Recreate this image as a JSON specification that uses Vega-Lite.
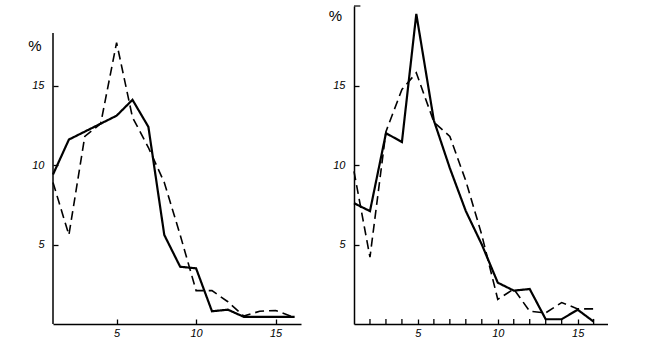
{
  "$schema": "https://vega.github.io/schema/vega-lite/v6.json",
  "padding": {"left": 27, "top": 5, "right": 0, "bottom": 0},
  "background": "white",
  "spacing": 53,
  "bounds": "flush",
  "config": {
    "view": {"stroke": null},
    "axis": {
      "domainColor": "black",
      "domainWidth": 1.5,
      "tickColor": "black",
      "tickWidth": 1.3,
      "tickSize": -5,
      "labelColor": "black",
      "labelFont": "Liberation Sans",
      "labelFontStyle": "italic",
      "labelFontSize": 11,
      "labelOverlap": false,
      "labelFlush": false,
      "grid": false,
      "titleColor": "black",
      "titleFont": "Liberation Sans",
      "titleFontSize": 15,
      "titleFontWeight": "normal"
    }
  },
  "datasets": {
    "left": [
      {"x": 1, "y": 9.4, "s": "solid"}, {"x": 2, "y": 11.6, "s": "solid"}, {"x": 3, "y": 12.1, "s": "solid"}, {"x": 4, "y": 12.6, "s": "solid"},
      {"x": 5, "y": 13.1, "s": "solid"}, {"x": 6, "y": 14.1, "s": "solid"}, {"x": 7, "y": 12.4, "s": "solid"}, {"x": 8, "y": 5.6, "s": "solid"},
      {"x": 9, "y": 3.6, "s": "solid"}, {"x": 10, "y": 3.5, "s": "solid"}, {"x": 11, "y": 0.8, "s": "solid"}, {"x": 12, "y": 0.9, "s": "solid"},
      {"x": 13, "y": 0.45, "s": "solid"}, {"x": 14, "y": 0.45, "s": "solid"}, {"x": 15, "y": 0.45, "s": "solid"}, {"x": 16.2, "y": 0.45, "s": "solid"},
      {"x": 1, "y": 8.9, "s": "dashed"}, {"x": 2, "y": 5.6, "s": "dashed"}, {"x": 3, "y": 11.8, "s": "dashed"}, {"x": 4, "y": 12.6, "s": "dashed"},
      {"x": 5, "y": 17.7, "s": "dashed"}, {"x": 6, "y": 13.0, "s": "dashed"}, {"x": 7, "y": 11.1, "s": "dashed"}, {"x": 8, "y": 8.9, "s": "dashed"},
      {"x": 9, "y": 5.6, "s": "dashed"}, {"x": 10, "y": 2.1, "s": "dashed"}, {"x": 11, "y": 2.1, "s": "dashed"}, {"x": 12, "y": 1.4, "s": "dashed"},
      {"x": 13, "y": 0.5, "s": "dashed"}, {"x": 14, "y": 0.8, "s": "dashed"}, {"x": 15, "y": 0.85, "s": "dashed"}, {"x": 16.2, "y": 0.4, "s": "dashed"}
    ],
    "right": [
      {"x": 1, "y": 7.6, "s": "solid"}, {"x": 2, "y": 7.1, "s": "solid"}, {"x": 3, "y": 12.0, "s": "solid"}, {"x": 4, "y": 11.45, "s": "solid"},
      {"x": 4.9, "y": 19.5, "s": "solid"}, {"x": 6, "y": 12.8, "s": "solid"}, {"x": 7, "y": 9.8, "s": "solid"}, {"x": 8, "y": 7.1, "s": "solid"},
      {"x": 9, "y": 5.0, "s": "solid"}, {"x": 10, "y": 2.6, "s": "solid"}, {"x": 11, "y": 2.1, "s": "solid"}, {"x": 12, "y": 2.2, "s": "solid"},
      {"x": 13, "y": 0.3, "s": "solid"}, {"x": 14, "y": 0.3, "s": "solid"}, {"x": 15, "y": 0.9, "s": "solid"}, {"x": 16, "y": 0.15, "s": "solid"},
      {"x": 1, "y": 9.6, "s": "dashed"}, {"x": 2, "y": 4.2, "s": "dashed"}, {"x": 3, "y": 12.1, "s": "dashed"}, {"x": 4, "y": 14.75, "s": "dashed"},
      {"x": 4.9, "y": 15.8, "s": "dashed"}, {"x": 6, "y": 12.7, "s": "dashed"}, {"x": 7, "y": 11.8, "s": "dashed"}, {"x": 8, "y": 9.0, "s": "dashed"},
      {"x": 9, "y": 5.6, "s": "dashed"}, {"x": 10, "y": 1.55, "s": "dashed"}, {"x": 11, "y": 2.2, "s": "dashed"}, {"x": 12, "y": 0.8, "s": "dashed"},
      {"x": 13, "y": 0.7, "s": "dashed"}, {"x": 14, "y": 1.35, "s": "dashed"}, {"x": 15, "y": 0.95, "s": "dashed"}, {"x": 16.2, "y": 0.95, "s": "dashed"}
    ],
    "minorTicks": [
      {"x": 2}, {"x": 3}, {"x": 4}, {"x": 6}, {"x": 7}, {"x": 8}, {"x": 9},
      {"x": 11}, {"x": 12}, {"x": 13}, {"x": 14}, {"x": 16}
    ]
  },
  "hconcat": [
    {
      "width": 248,
      "height": 318,
      "layer": [
        {
          "data": {"name": "left"},
          "mark": {"type": "line", "color": "black", "strokeJoin": "miter"},
          "encoding": {
            "x": {"field": "x", "type": "quantitative", "scale": {"domain": [1, 16.6], "nice": false, "zero": false},
                  "axis": {"values": [5, 10, 15], "title": null, "labelPadding": 8, "labelOverlap": false, "labelFlush": false}},
            "y": {"field": "y", "type": "quantitative", "scale": {"domain": [0, 20], "nice": false},
                  "axis": {"values": [5, 10, 15], "domain": false, "title": "%", "titleAngle": 0, "titleX": -18.5, "titleY": 39, "titleAlign": "center", "titleBaseline": "middle", "labelPadding": 14, "labelOverlap": false}},
            "strokeDash": {"field": "s", "type": "nominal", "scale": {"domain": ["solid", "dashed"], "range": [[1, 0], [9, 5]]}, "legend": null},
            "strokeWidth": {"field": "s", "type": "nominal", "scale": {"domain": ["solid", "dashed"], "range": [2.2, 1.6]}, "legend": null}
          }
        },
        {
          "data": {"values": [{}]},
          "mark": {"type": "rule", "color": "black", "strokeWidth": 1.5},
          "encoding": {
            "x": {"datum": 1, "type": "quantitative"},
            "y": {"datum": 0, "type": "quantitative"},
            "y2": {"datum": 18.3}
          }
        }
      ]
    },
    {
      "width": 254,
      "height": 318,
      "layer": [
        {
          "data": {"name": "right"},
          "mark": {"type": "line", "color": "black", "strokeJoin": "miter"},
          "encoding": {
            "x": {"field": "x", "type": "quantitative", "scale": {"domain": [1, 16.9], "nice": false, "zero": false},
                  "axis": {"values": [5, 10, 15], "title": null, "labelPadding": 8, "labelOverlap": false, "labelFlush": false}},
            "y": {"field": "y", "type": "quantitative", "scale": {"domain": [0, 20], "nice": false},
                  "axis": {"values": [5, 10, 15], "title": "%", "titleAngle": 0, "titleX": -19, "titleY": 9.5, "titleAlign": "center", "titleBaseline": "middle", "labelPadding": 14, "labelOverlap": false}},
            "strokeDash": {"field": "s", "type": "nominal", "scale": {"domain": ["solid", "dashed"], "range": [[1, 0], [9, 5]]}, "legend": null},
            "strokeWidth": {"field": "s", "type": "nominal", "scale": {"domain": ["solid", "dashed"], "range": [2.2, 1.6]}, "legend": null}
          }
        },
        {
          "data": {"name": "minorTicks"},
          "mark": {"type": "rule", "color": "black", "strokeWidth": 1.3},
          "encoding": {
            "x": {"field": "x", "type": "quantitative"},
            "y": {"datum": 0, "type": "quantitative"},
            "y2": {"datum": 0.32}
          }
        },
        {
          "data": {"values": [{}]},
          "mark": {"type": "rule", "color": "black", "strokeWidth": 1.2},
          "encoding": {
            "x": {"datum": 1, "type": "quantitative"},
            "x2": {"datum": 1.4},
            "y": {"datum": 20, "type": "quantitative"}
          }
        }
      ]
    }
  ]
}
